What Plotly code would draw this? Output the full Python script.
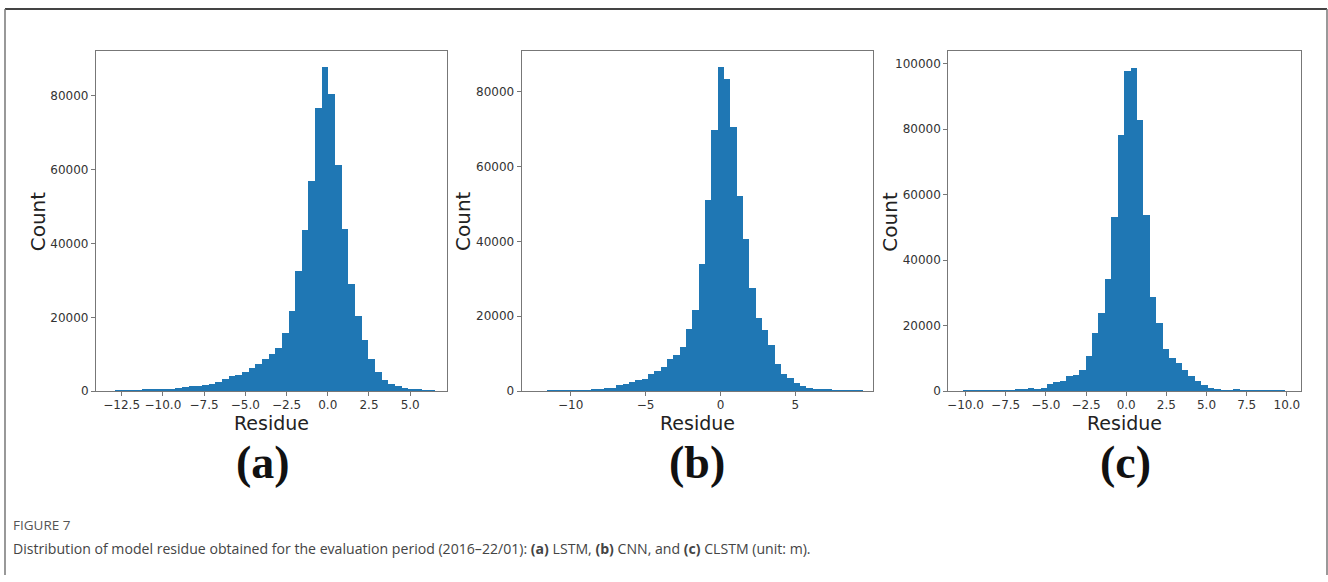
import plotly.graph_objects as go

# ---------------- data ----------------
# (a) LSTM
a_bin_start = -12.89
a_bin_width = 0.404
a_counts = [100, 150, 150, 200, 550, 250, 350, 350, 450, 700,
            1000, 1200, 1400, 1600, 1800, 2300, 3200, 4100, 4300, 5200,
            6200, 7400, 8700, 10100, 11600, 15700, 21700, 32400, 43500, 56900,
            76500, 87600, 80300, 61100, 43900, 28800, 20300, 13800, 8700, 5200,
            2900, 1800, 1200, 900, 500, 300, 100, 50]
a_xticks = [-12.5, -10.0, -7.5, -5.0, -2.5, 0.0, 2.5, 5.0]
a_yticks = [0, 20000, 40000, 60000, 80000]

# (b) CNN
b_bin_start = -11.64
b_bin_width = 0.423
b_counts = [90, 90, 90, 90, 90, 90, 180, 260, 440, 700,
            880, 1500, 1940, 2380, 2820, 3090, 4410, 5290, 6350, 8560,
            9530, 11730, 16490, 21610, 33780, 50890, 69680, 86450, 83170, 70380,
            51950, 40400, 27340, 19400, 16140, 12350, 7060, 4410, 3350, 2200,
            1300, 880, 600, 400, 300, 200, 150, 100, 80, 50]
b_xticks = [-10, -5, 0, 5]
b_yticks = [0, 20000, 40000, 60000, 80000]

# (c) CLSTM
c_bin_start = -10.11
c_bin_width = 0.40
c_counts = [100, 100, 100, 100, 100, 50, 50, 100, 300, 500,
            1000, 700, 900, 2000, 2700, 2900, 4420, 4720, 6430, 10750,
            17800, 23800, 34200, 53000, 78100, 97700, 98500, 82600, 53700, 28600,
            20800, 12800, 10050, 8440, 6430, 4420, 3000, 1700, 900, 400,
            200, 150, 300, 100, 50, 30, 30, 30, 30, 30]
c_xticks = [-10.0, -7.5, -5.0, -2.5, 0.0, 2.5, 5.0, 7.5, 10.0]
c_yticks = [0, 20000, 40000, 60000, 80000, 100000]

panel_letters = ["(a)", "(b)", "(c)"]
x_title = "Residue"
y_title = "Count"
fig_label = "FIGURE 7"
caption_html = ("Distribution of model residue obtained for the evaluation period (2016\u201322/01): "
                "<b>(a)</b> LSTM, <b>(b)</b> CNN, and <b>(c)</b> CLSTM (unit: m).")

# ---------------- layout constants ----------------
W, H = 1328, 582
BAR = "#1f77b4"
AX = "#777777"
TXT = "#333333"

panels = [
    dict(start=a_bin_start, width=a_bin_width, counts=a_counts, xticks=a_xticks, yticks=a_yticks,
         xr=[-14.06, 7.21], yr=[0, 92000], px=(95, 446), fmt=".1f"),
    dict(start=b_bin_start, width=b_bin_width, counts=b_counts, xticks=b_xticks, yticks=b_yticks,
         xr=[-13.28, 10.21], yr=[0, 90700], px=(521, 873), fmt="d"),
    dict(start=c_bin_start, width=c_bin_width, counts=c_counts, xticks=c_xticks, yticks=c_yticks,
         xr=[-11.07, 10.88], yr=[0, 103700], px=(948, 1301), fmt=".1f"),
]
top_px, bot_px = 52, 396

fig = go.Figure()
layout = dict(
    width=W, height=H,
    margin=dict(l=0, r=0, t=0, b=0),
    paper_bgcolor="white", plot_bgcolor="white",
    showlegend=False, bargap=0,
    font=dict(family="DejaVu Sans", color=TXT),
)

annotations = []
for i, p in enumerate(panels):
    n = "" if i == 0 else str(i + 1)
    centers = [p["start"] + p["width"] * (k + 0.5) for k in range(len(p["counts"]))]
    fig.add_trace(go.Bar(
        x=centers, y=p["counts"], width=p["width"],
        marker=dict(color=BAR, line=dict(width=0)),
        xaxis="x" + n, yaxis="y" + n,
    ))
    x0, x1 = p["px"]
    dom_x = [x0 / W, x1 / W]
    dom_y = [1 - bot_px / H, 1 - top_px / H]
    layout["xaxis" + n] = dict(
        domain=dom_x, anchor="y" + n, range=p["xr"],
        tickvals=p["xticks"], tickformat=p["fmt"],
        ticks="outside", ticklen=4, tickcolor=AX, tickwidth=1,
        ticklabelstandoff=-2,
        showline=True, linecolor=AX, linewidth=1, mirror=True,
        showgrid=False, zeroline=False,
        tickfont=dict(family="DejaVu Sans", size=12, color=TXT),
    )
    layout["yaxis" + n] = dict(
        domain=dom_y, anchor="x" + n, range=p["yr"],
        tickvals=p["yticks"], tickformat="d",
        ticks="outside", ticklen=4, tickcolor=AX, tickwidth=1,
        showline=True, linecolor=AX, linewidth=1, mirror=True,
        showgrid=False, zeroline=False,
        tickfont=dict(family="DejaVu Sans", size=12, color=TXT),
    )
    cx = (x0 + x1) / 2
    annotations.append(dict(
        text=x_title, x=cx / W, y=1 - 428 / H, xref="paper", yref="paper",
        xanchor="center", yanchor="middle", showarrow=False,
        font=dict(family="DejaVu Sans", size=19, color="#222222")))
    annotations.append(dict(
        text=y_title, x=(x0 - 58) / W, y=1 - 224 / H, xref="paper", yref="paper",
        xanchor="center", yanchor="middle", showarrow=False, textangle=-90,
        font=dict(family="DejaVu Sans", size=20, color="#222222")))
    letter_x = [262, 697, 1125][i]
    annotations.append(dict(
        text="<b>" + panel_letters[i] + "</b>", x=letter_x / W, y=1 - 468 / H,
        xref="paper", yref="paper", xanchor="center", yanchor="middle", showarrow=False,
        font=dict(family="Liberation Serif", size=46, color="#111111")))

annotations.append(dict(
    text=fig_label, x=10 / W, y=1 - 531 / H, xref="paper", yref="paper",
    xanchor="left", yanchor="middle", showarrow=False,
    font=dict(family="Open Sans", size=13.5, color="#555555")))
annotations.append(dict(
    text=caption_html, x=10 / W, y=1 - 555 / H, xref="paper", yref="paper",
    xanchor="left", yanchor="middle", showarrow=False,
    font=dict(family="Open Sans", size=14.1, color="#444444")))
layout["annotations"] = annotations

layout["shapes"] = [
    dict(type="line", xref="paper", yref="paper", x0=4 / W, x1=1327 / W,
         y0=1 - 9 / H, y1=1 - 9 / H, line=dict(color="#444444", width=2)),
    dict(type="line", xref="paper", yref="paper", x0=4 / W, x1=4 / W,
         y0=1 - 9 / H, y1=0, line=dict(color="#777777", width=1.5)),
    dict(type="line", xref="paper", yref="paper", x0=1327 / W, x1=1327 / W,
         y0=1 - 9 / H, y1=0, line=dict(color="#777777", width=1.5)),
]

fig.update_layout(**layout)
fig.write_html("out.html")
